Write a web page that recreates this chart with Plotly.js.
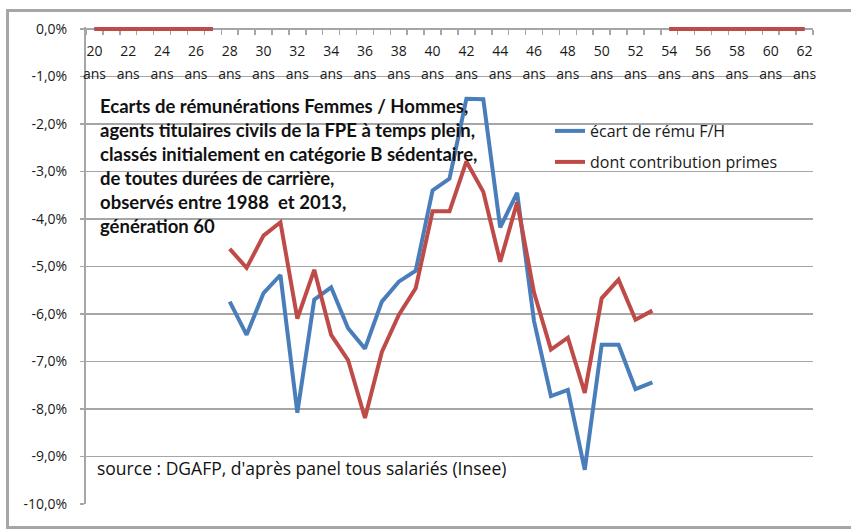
<!DOCTYPE html>
<html>
<head>
<meta charset="utf-8">
<script src="https://cdn.plot.ly/plotly-3.0.1.min.js"></script>
<style>
body { margin: 0; overflow: hidden; background: #fff; }
#chart { width: 851px; height: 529px; }
#cadre { position: absolute; left: 6px; top: 9px; width: 860px; height: 514px; border: 3px solid #a6a6a6; pointer-events: none; }
</style>
</head>
<body>
<div id="chart"></div>
<div id="cadre"></div>
<script>
// ages observés (28 à 53 ans)
var ages = [28, 29, 30, 31, 32, 33, 34, 35, 36, 37, 38, 39, 40, 41, 42, 43, 44, 45, 46, 47, 48, 49, 50, 51, 52, 53];
// écart de rému F/H (%)
var ecart = [-5.74, -6.44, -5.56, -5.18, -8.08, -5.70, -5.44, -6.30, -6.73, -5.74, -5.32, -5.09, -3.40, -3.15,
             -1.47, -1.48, -4.18, -3.45, -6.15, -7.73, -7.60, -9.28, -6.65, -6.65, -7.58, -7.44];
// dont contribution primes (%)
var primes = [-4.63, -5.03, -4.35, -4.07, -6.10, -5.07, -6.44, -6.97, -8.19, -6.80, -6.02, -5.46, -3.84, -3.84,
              -2.79, -3.43, -4.90, -3.65, -5.55, -6.75, -6.50, -7.66, -5.67, -5.28, -6.12, -5.93];
// ages sans observation (valeur 0)
var agesZero = [20, 21, 22, 23, 24, 25, 26, 27, null, 54, 55, 56, 57, 58, 59, 60, 61, 62];
var valsZero = [0, 0, 0, 0, 0, 0, 0, 0, null, 0, 0, 0, 0, 0, 0, 0, 0, 0];

// axes
var xTicks = [20, 22, 24, 26, 28, 30, 32, 34, 36, 38, 40, 42, 44, 46, 48, 50, 52, 54, 56, 58, 60, 62];
var yTicks = [0, -1, -2, -3, -4, -5, -6, -7, -8, -9, -10];
var yLabels = ['0,0%', '-1,0%', '-2,0%', '-3,0%', '-4,0%', '-5,0%', '-6,0%', '-7,0%', '-8,0%', '-9,0%', '-10,0%'];

var titre = [
  'Ecarts de rémunérations Femmes / Hommes,',
  'agents titulaires civils de la FPE à temps plein,',
  'classés initialement en catégorie B sédentaire,',
  'de toutes durées de carrière,',
  'observés entre 1988  et 2013,',
  'génération 60'
];
var source = "source : DGAFP, d'après panel tous salariés (Insee)";

var BLEU = '#4a7ebb', ROUGE = '#be4b48', GRIS = '#a6a6a6';
var yRange = [-10, 0.04];

// pixel -> paper (plot area 86..813 x 27..504)
function px(p) { return (p - 86) / 727; }
function py(p) { return (504 - p) / 477; }
var zeroPos = (0 - yRange[0]) / (yRange[1] - yRange[0]);

var data = [
  {x: agesZero, y: valsZero, type: 'scatter', mode: 'lines', line: {color: BLEU, width: 4}, showlegend: false, hoverinfo: 'skip'},
  {x: agesZero, y: valsZero, type: 'scatter', mode: 'lines', line: {color: ROUGE, width: 4}, showlegend: false, hoverinfo: 'skip'},
  {x: ages, y: ecart, name: 'écart de rému F/H', type: 'scatter', mode: 'lines', line: {color: BLEU, width: 4}, legend: 'legend'},
  {x: ages, y: primes, name: 'dont contribution primes', type: 'scatter', mode: 'lines', line: {color: ROUGE, width: 4}, legend: 'legend2'},
  {x: [], y: [], xaxis: 'x2', showlegend: false},
  {x: [], y: [], xaxis: 'x3', showlegend: false}
];

var tickFont = {family: 'Open Sans', size: 14, color: '#1a1a1a'};
var labelAxis = {
  overlaying: 'x', range: [19.5, 62.5], anchor: 'free', position: zeroPos, side: 'bottom',
  tickmode: 'array', tickvals: xTicks, showline: false, showgrid: false, zeroline: false,
  ticks: '', tickfont: tickFont
};
var xaxis2 = Object.assign({}, labelAxis, {ticktext: xTicks.map(String), ticklabelstandoff: 12});
var xaxis3 = Object.assign({}, labelAxis, {ticktext: xTicks.map(function () { return 'ans'; }), ticklabelstandoff: 35});

var legendBase = {xref: 'paper', yref: 'paper', xanchor: 'left', yanchor: 'middle', bgcolor: 'rgba(0,0,0,0)',
  font: {family: 'Open Sans', size: 16, color: '#1a1a1a'}};

var annotations = titre.map(function (t, i) {
  return {xref: 'paper', yref: 'paper', x: px(98), y: py(106 + i * 24), xanchor: 'left', yanchor: 'middle',
    showarrow: false, text: '<b>' + t + '</b>', font: {family: 'Lato', size: 18.5, color: '#111'}};
});
annotations.push({xref: 'paper', yref: 'paper', x: px(95), y: py(468), xanchor: 'left', yanchor: 'middle',
  showarrow: false, text: source, font: {family: 'Open Sans', size: 17.5, color: '#111'}});

var layout = {
  width: 851,
  height: 529,
  paper_bgcolor: '#fff',
  plot_bgcolor: '#fff',
  margin: {l: 86, r: 38, t: 27, b: 25},
  xaxis: {
    range: [19.5, 62.5], anchor: 'free', position: zeroPos, side: 'top',
    showline: true, linecolor: GRIS, linewidth: 2, showgrid: false, zeroline: false,
    showticklabels: false, ticks: '', layer: 'below traces',
    minor: {tick0: 19.5, dtick: 1, ticks: 'inside', ticklen: 5, tickcolor: GRIS, tickwidth: 1.5, showgrid: false}
  },
  xaxis2: xaxis2,
  xaxis3: xaxis3,
  yaxis: {
    range: yRange, tickmode: 'array', tickvals: yTicks, ticktext: yLabels,
    showline: true, linecolor: GRIS, linewidth: 2, gridcolor: GRIS, gridwidth: 1.5,
    zeroline: false, ticks: 'outside', ticklen: 4, tickcolor: GRIS, tickwidth: 1.5,
    ticklabelstandoff: 10, tickfont: tickFont, layer: 'below traces'
  },
  legend: Object.assign({}, legendBase, {x: px(550), y: py(131)}),
  legend2: Object.assign({}, legendBase, {x: px(550), y: py(162)}),
  annotations: annotations,
  showlegend: true
};

Plotly.newPlot('chart', data, layout, {staticPlot: true});
</script>
</body>
</html>
